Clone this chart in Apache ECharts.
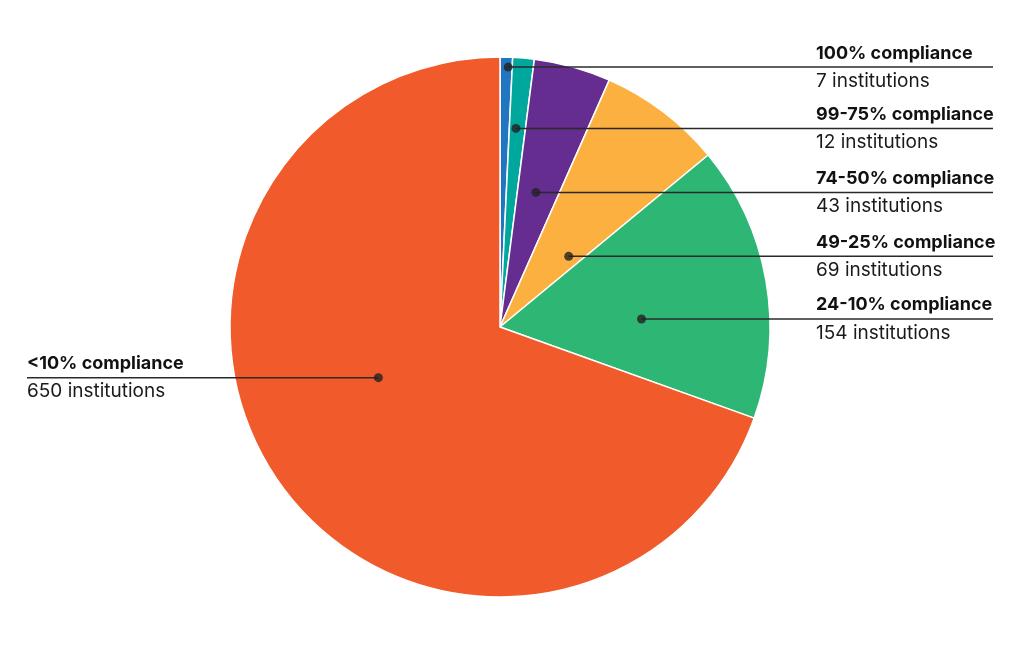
<!DOCTYPE html>
<html>
<head>
<meta charset="utf-8">
<script src="https://cdn.jsdelivr.net/npm/echarts@6/dist/echarts.min.js"></script>
<style>
  html, body { margin: 0; background: #fff; }
  #chart { width: 1024px; height: 651px; }
</style>
</head>
<body>
<div id="chart"></div>
<script>
var groups = ['100% compliance', '99-75% compliance', '74-50% compliance', '49-25% compliance', '24-10% compliance', '<10% compliance'];
var counts = [7, 12, 43, 69, 154, 650];
var colors = ['#2176c1', '#00a79d', '#662d91', '#fbb040', '#2db674', '#f15a2b'];
// where each callout dot sits in its slice: share of the slice sweep, share of the radius
var markerAlong = [0.67, 0.41, 0.46, 0.765, 0.613, 0.55];
var markerRadius = [0.963, 0.738, 0.516, 0.365, 0.525, 0.488];

var total = 0;
counts.forEach(function (c) { total += c; });

var slices = [];
var labelSlices = [];
var markers = [];
var cum = 0;
for (var i = 0; i < counts.length; i++) {
  slices.push({ name: groups[i], value: counts[i], itemStyle: { color: colors[i] } });
  labelSlices.push({ name: groups[i], value: counts[i] });
  markers.push([markerRadius[i], cum + markerAlong[i] * counts[i]]);
  cum += counts[i];
}

var CENTER = [500, 327];
var RADIUS = 270;

// pixel position of a callout dot (same mapping the polar axes use)
function markerPixel(i) {
  var a = markers[i][1] / total * Math.PI * 2;
  var r = markers[i][0] * RADIUS;
  return [CENTER[0] + r * Math.sin(a), CENTER[1] - r * Math.cos(a)];
}

var chart = echarts.init(document.getElementById('chart'));
chart.setOption({
  animation: false,
  polar: { center: CENTER, radius: RADIUS },
  angleAxis: {
    type: 'value', min: 0, max: total, startAngle: 90, clockwise: true,
    axisLine: { show: false }, axisTick: { show: false },
    axisLabel: { show: false }, splitLine: { show: false }
  },
  radiusAxis: {
    type: 'value', min: 0, max: 1,
    axisLine: { show: false }, axisTick: { show: false },
    axisLabel: { show: false }, splitLine: { show: false }
  },
  series: [
    {
      // the coloured slices
      type: 'pie',
      silent: true,
      z: 2,
      center: CENTER,
      radius: RADIUS,
      startAngle: 90,
      clockwise: true,
      itemStyle: { borderColor: '#fff', borderWidth: 1.5 },
      label: { show: false },
      labelLine: { show: false },
      data: slices
    },
    {
      // invisible twin that carries the callouts above the slices
      type: 'pie',
      silent: true,
      z: 3,
      center: CENTER,
      radius: RADIUS,
      startAngle: 90,
      clockwise: true,
      itemStyle: { color: 'rgba(0,0,0,0)', borderWidth: 0 },
      label: {
        show: true,
        position: 'outside',
        formatter: function (p) {
          return '{a|' + groups[p.dataIndex] + '}\n{b|' + counts[p.dataIndex] + ' institutions}';
        },
        rich: {
          a: { fontFamily: 'Inter', fontWeight: 700, fontSize: 18, color: '#111', lineHeight: 28 },
          b: { fontFamily: 'Inter', fontWeight: 400, fontSize: 19, color: '#1a1a1a', lineHeight: 28 }
        }
      },
      labelLine: { show: true, lineStyle: { color: '#2a2a2a', width: 1.5 } },
      labelLayout: function (p) {
        var pt = markerPixel(p.dataIndex);
        var onLeft = p.dataIndex === groups.length - 1;
        var tx = onLeft ? 27 : 816;
        var end = onLeft ? 27 : 993;
        return {
          x: tx,
          y: pt[1],
          align: 'left',
          verticalAlign: 'middle',
          labelLinePoints: [[pt[0], pt[1]], [(pt[0] + end) / 2, pt[1]], [end, pt[1]]]
        };
      },
      data: labelSlices
    },
    {
      type: 'scatter',
      coordinateSystem: 'polar',
      silent: true,
      symbol: 'circle',
      symbolSize: 9,
      itemStyle: { color: '#222' },
      z: 5,
      data: markers
    }
  ]
});
</script>
</body>
</html>
